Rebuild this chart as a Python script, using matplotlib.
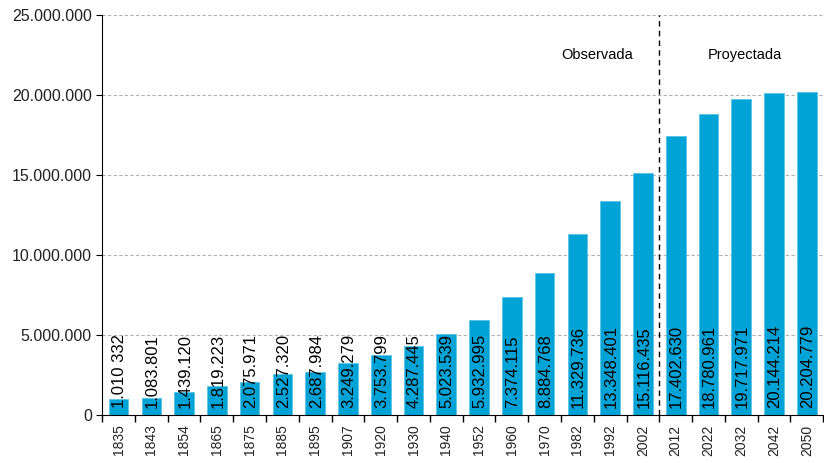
import numpy as np
import matplotlib.pyplot as plt
from matplotlib.ticker import FuncFormatter

plt.rcParams['font.family'] = ['Liberation Sans', 'DejaVu Sans']

years = ['1835', '1843', '1854', '1865', '1875', '1885', '1895', '1907', '1920',
         '1930', '1940', '1952', '1960', '1970', '1982', '1992', '2002',
         '2012', '2022', '2032', '2042', '2050']
population = [1010332, 1083801, 1439120, 1819223, 2075971, 2527320, 2687984,
              3249279, 3753799, 4287445, 5023539, 5932995, 7374115, 8884768,
              11329736, 13348401, 15116435, 17402630, 18780961, 19717971,
              20144214, 20204779]
labels = ['1.010 332', '1.083.801', '1.439.120', '1.819.223', '2.075.971',
          '2.527.320', '2.687.984', '3.249.279', '3.753.799', '4.287.445',
          '5.023.539', '5.932.995', '7.374.115', '8.884.768', '11.329.736',
          '13.348.401', '15.116.435', '17.402.630', '18.780.961', '19.717.971',
          '20.144.214', '20.204.779']
n_observed = 17

fig = plt.figure(figsize=(8.24, 4.63), dpi=100)
ax = fig.add_axes([0.124, 0.104, 0.875, 0.864])

x = np.arange(len(years))
ax.bar(x, population, width=0.6, color='#00a3d6', edgecolor='#5cc3e6', linewidth=0.6, zorder=2)

for xi, lab in zip(x, labels):
    ax.text(xi + 0.03, 400000, lab, rotation=90, ha='center', va='bottom', fontsize=12, color='black', zorder=3)

ax.set_ylim(0, 25000000)
ax.set_xlim(-0.48, 21.45)
ax.set_yticks(np.arange(0, 25000001, 5000000))
ax.yaxis.set_major_formatter(FuncFormatter(lambda v, p: f'{int(v):,}'.replace(',', '.')))
for yv in range(5000000, 25000001, 5000000):
    ax.axhline(yv, color='#b0b0b0', linestyle=(0, (3, 2)), linewidth=0.8, zorder=1)

ax.set_xticks(x)
ax.set_xticklabels(years, rotation=90, fontsize=10, color='#222222')
ax.tick_params(axis='x', which='major', length=0, pad=7)
ax.set_xticks(np.arange(-0.5, len(years), 1), minor=True)
ax.tick_params(axis='x', which='minor', length=5, width=1)
ax.tick_params(axis='y', labelsize=11.5, labelcolor='#222222', length=4)

ax.axvline(n_observed - 0.5, color='black', linestyle=(0, (4, 3)), linewidth=1, zorder=3)
ax.text(14.6, 22500000, 'Observada', ha='center', va='center', fontsize=10.5)
ax.text(19.1, 22500000, 'Proyectada', ha='center', va='center', fontsize=10.5)

for side in ['top', 'right']:
    ax.spines[side].set_visible(False)

fig.savefig('out.png', dpi=100)
